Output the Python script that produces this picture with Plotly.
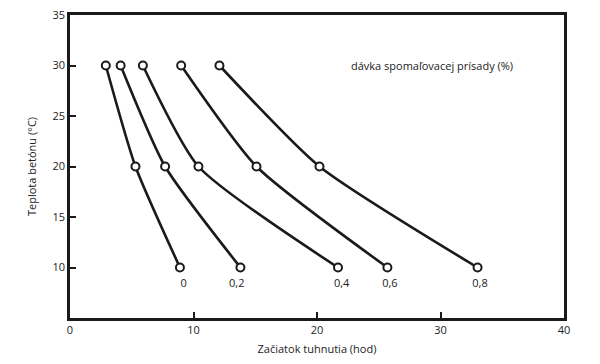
import plotly.graph_objects as go

temps = [30, 20, 10]
doses = ["0", "0,2", "0,4", "0,6", "0,8"]
start_0 = [2.9, 5.3, 8.9]
start_02 = [4.1, 7.7, 13.8]
start_04 = [5.9, 10.4, 21.7]
start_06 = [9.0, 15.1, 25.7]
start_08 = [12.1, 20.2, 33.0]
series = [start_0, start_02, start_04, start_06, start_08]
label_x = [9.2, 13.5, 22.0, 25.9, 33.2]
label_y = 8.3
x_ticks = [0, 10, 20, 30, 40]
y_ticks = [10, 15, 20, 25, 30, 35]

fig = go.Figure()
for name, xs in zip(doses, series):
    fig.add_trace(go.Scatter(
        x=xs, y=temps, mode="lines+markers", name=name,
        line=dict(color="#1a1a1a", width=2.6, shape="spline", smoothing=0.6),
        marker=dict(symbol="circle", size=8, color="white",
                    line=dict(color="#1a1a1a", width=2)),
        showlegend=False,
    ))

fig.add_trace(go.Scatter(
    x=label_x, y=[label_y] * len(doses), mode="text", text=doses,
    textfont=dict(size=11, color="#222"), showlegend=False,
))

fig.add_annotation(x=29.3, y=30, text="dávka spomaľovacej prísady (%)",
                   showarrow=False, font=dict(size=11, color="#222"))

axis_common = dict(showgrid=False, zeroline=False, showline=True, linecolor="#1a1a1a",
                   linewidth=2.5, mirror=True, ticks="inside", ticklen=6, tickwidth=2,
                   tickcolor="#1a1a1a", tickfont=dict(size=11, color="#222"),
                   automargin=False, ticklabeloverflow="allow")

fig.update_xaxes(range=[0, 40], tickvals=x_ticks,
                 title=dict(text="Začiatok tuhnutia (hod)", font=dict(size=11, color="#222"), standoff=10),
                 **axis_common)
fig.update_yaxes(range=[5, 35], tickvals=y_ticks,
                 title=dict(text="Teplota betónu (°C)", font=dict(size=11, color="#222"), standoff=14),
                 **axis_common)

fig.update_layout(
    width=600, height=364,
    margin=dict(l=62, r=44, t=7, b=54),
    paper_bgcolor="white", plot_bgcolor="white",
    font=dict(family="Open Sans, sans-serif", color="#222"),
)

fig.write_html("out.html")
